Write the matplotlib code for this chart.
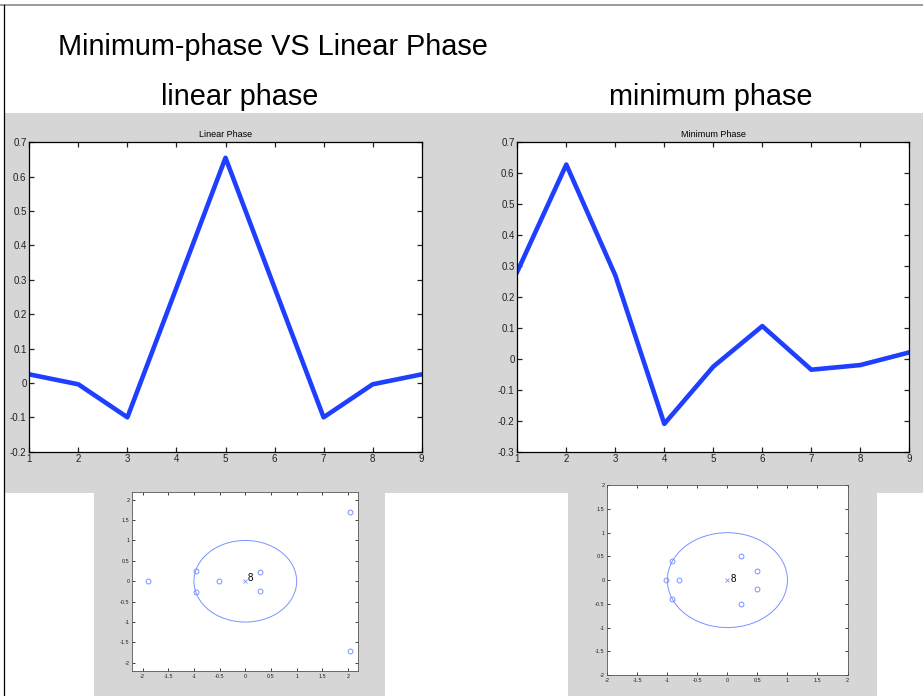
import matplotlib
matplotlib.use("Agg")
import matplotlib.pyplot as plt
from matplotlib.patches import Rectangle, Circle
from matplotlib.lines import Line2D

plt.rcParams["font.family"] = ["Liberation Sans", "DejaVu Sans"]

W, H = 923, 696

# impulse responses
n = [1, 2, 3, 4, 5, 6, 7, 8, 9]
h_linear = [0.025, -0.004, -0.1, 0.277, 0.655, 0.277, -0.1, -0.004, 0.025]
h_minimum = [0.282, 0.628, 0.27, -0.21, -0.025, 0.106, -0.035, -0.02, 0.021]

lin_zero_re = [-1.9, -0.96, -0.96, -0.52, 0.28, 0.28, 2.03, 2.03]
lin_zero_im = [0.0, 0.26, -0.26, 0.0, 0.23, -0.23, 1.7, -1.7]
min_zero_re = [-1.03, -0.8, -0.92, -0.92, 0.22, 0.22, 0.49, 0.49]
min_zero_im = [0.0, 0.0, 0.40, -0.40, 0.50, -0.50, 0.19, -0.19]
n_poles = 8

pz_ticks = [-2, -1.5, -1, -0.5, 0, 0.5, 1, 1.5, 2]
pz_labels = ["-2", "-1.5", "-1", "-0.5", "0", "0.5", "1", "1.5", "2"]

LINE_BLUE = "#1f3fff"
PZ_BLUE = "#7893ff"
GRAY = "#d6d6d6"


def box(left, top, right, bottom):
    return [left / W, 1 - bottom / H, (right - left) / W, (bottom - top) / H]


def gray_rect(fig, left, top, right, bottom):
    x, y, w, h = box(left, top, right, bottom)
    fig.add_artist(Rectangle((x, y), w, h, transform=fig.transFigure,
                             facecolor=GRAY, edgecolor="none", zorder=0))


def style_axes(ax, size, length, width):
    ax.tick_params(direction="in", top=True, right=True, labelsize=size,
                   length=length, width=width, pad=2, colors="#222222")
    for s in ax.spines.values():
        s.set_linewidth(width)


fig = plt.figure(figsize=(W / 100, H / 100), dpi=100)
fig.patch.set_facecolor("white")

# slide background panels
gray_rect(fig, 4.5, 113, W, 492.7)
gray_rect(fig, 94, 492, 385, H)
gray_rect(fig, 568, 492, 877, H)

# slide frame
fig.add_artist(Line2D([0, 1], [1 - 5 / H, 1 - 5 / H], transform=fig.transFigure,
                      color="#8a8a8a", linewidth=1.2))
fig.add_artist(Line2D([4.3 / W, 4.3 / W], [0, 1 - 5 / H], transform=fig.transFigure,
                      color="black", linewidth=0.9))

fig.text(58 / W, 1 - 55 / H, "Minimum-phase VS Linear Phase", fontsize=20.8,
         ha="left", va="baseline")
fig.text(240 / W, 1 - 105 / H, "linear phase", fontsize=20.8,
         ha="center", va="baseline")
fig.text(711 / W, 1 - 105 / H, "minimum phase", fontsize=20.8,
         ha="center", va="baseline")

# impulse responses
ax1 = fig.add_axes(box(29.3, 142.3, 421.7, 451.7))
ax1.plot(n, h_linear, color=LINE_BLUE, linewidth=3.3)
ax1.set_xlim(1, 9)
ax1.set_ylim(-0.2, 0.7)
ax1.set_yticks([-0.2, -0.1, 0, 0.1, 0.2, 0.3, 0.4, 0.5, 0.6, 0.7])
ax1.set_yticklabels(["-0.2", "-0.1", "0", "0.1", "0.2", "0.3", "0.4", "0.5", "0.6", "0.7"])
ax1.set_xticks(n)
ax1.set_title("Linear Phase", fontsize=6.5, pad=4)
style_axes(ax1, 7, 3.5, 0.9)

ax2 = fig.add_axes(box(517.3, 142.3, 909.3, 451.7))
ax2.plot(n, h_minimum, color=LINE_BLUE, linewidth=3.3)
ax2.set_xlim(1, 9)
ax2.set_ylim(-0.3, 0.7)
ax2.set_yticks([-0.3, -0.2, -0.1, 0, 0.1, 0.2, 0.3, 0.4, 0.5, 0.6, 0.7])
ax2.set_yticklabels(["-0.3", "-0.2", "-0.1", "0", "0.1", "0.2", "0.3", "0.4",
                     "0.5", "0.6", "0.7"])
ax2.set_xticks(n)
ax2.set_title("Minimum Phase", fontsize=6.5, pad=4)
style_axes(ax2, 7, 3.5, 0.9)


def zplane(ax, zr, zi, lim, label_off):
    ax.add_patch(Circle((0, 0), 1, fill=False, edgecolor=PZ_BLUE, linewidth=0.7))
    ax.plot(zr, zi, linestyle="none", marker="o", markersize=3.5,
            markerfacecolor="none", markeredgecolor=PZ_BLUE, markeredgewidth=0.7)
    ax.plot([0], [0], linestyle="none", marker="x", markersize=2.5,
            markeredgecolor=PZ_BLUE, markeredgewidth=0.6)
    ax.annotate(str(n_poles), (0, 0), xytext=label_off, textcoords="offset points",
                fontsize=7, ha="left", va="center")
    ax.set_xlim(-lim, lim)
    ax.set_ylim(-lim, lim)
    ax.set_xticks(pz_ticks)
    ax.set_xticklabels(pz_labels)
    ax.set_yticks(pz_ticks)
    ax.set_yticklabels(pz_labels)
    style_axes(ax, 4, 2, 0.6)
    for s in ax.spines.values():
        s.set_color("#555555")


ax3 = fig.add_axes(box(132.3, 491.5, 358.3, 671))
zplane(ax3, lin_zero_re, lin_zero_im, 2.2, (1.5, 2.5))

ax4 = fig.add_axes(box(607.3, 485.3, 847.5, 675))
zplane(ax4, min_zero_re, min_zero_im, 2.0, (2.5, 0.5))

fig.savefig("out.png", dpi=100)
